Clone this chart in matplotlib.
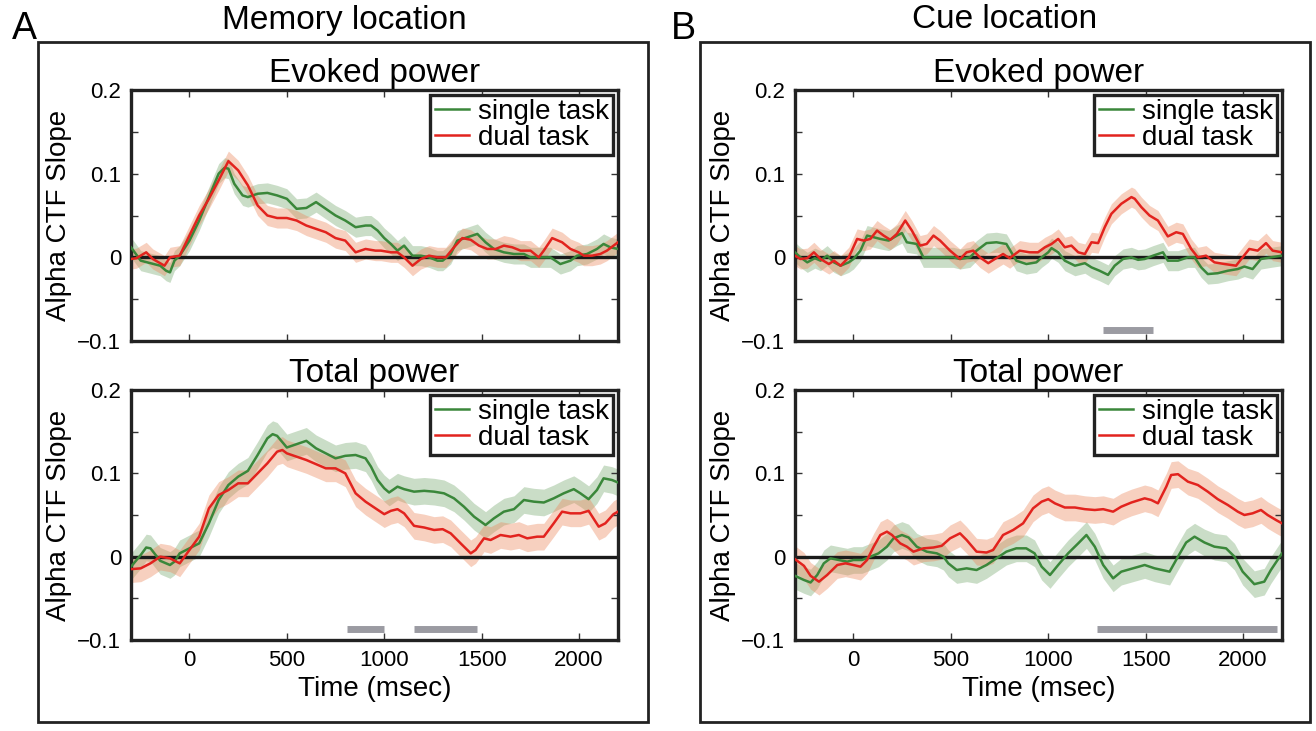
import numpy as np
import matplotlib
matplotlib.use("Agg")
import matplotlib.pyplot as plt
from matplotlib.patches import Rectangle
from matplotlib.ticker import FuncFormatter, MultipleLocator

plt.rcParams['font.family'] = ['Liberation Sans', 'DejaVu Sans']

# ---------------- data (time in msec, Alpha CTF slope) ----------------
A_evoked_single = [(-300,0.012),(-250,-0.004),(-200,-0.007),(-150,-0.010),(-120,-0.016),(-100,-0.018),(-77,-0.004),(-50,0.002),(0,0.020),(50,0.044),(100,0.072),(150,0.100),(180,0.107),(200,0.106),(230,0.088),(273,0.074),(300,0.072),(350,0.076),(400,0.077),(450,0.074),(500,0.070),(550,0.058),(600,0.059),(650,0.066),(700,0.058),(750,0.050),(800,0.044),(853,0.036),(904,0.038),(932,0.038),(966,0.032),(1000,0.023),(1034,0.016),(1068,0.008),(1102,0.014),(1145,0.002),(1188,0.002),(1230,0.000),(1273,-0.004),(1300,-0.004),(1341,0.004),(1375,0.020),(1427,0.024),(1478,0.028),(1520,0.018),(1563,0.010),(1614,0.006),(1666,0.004),(1717,0.004),(1751,0.000),(1785,0.000),(1853,0.000),(1904,-0.008),(1956,-0.004),(1990,0.002),(2041,0.004),(2092,0.010),(2126,0.016),(2160,0.012),(2200,0.010)]
A_evoked_dual = [(-300,-0.002),(-272,-0.001),(-222,0.006),(-188,-0.002),(-128,-0.010),(-100,0.000),(-50,0.002),(0,0.026),(50,0.050),(100,0.070),(150,0.092),(200,0.115),(250,0.104),(300,0.086),(350,0.062),(400,0.050),(450,0.047),(500,0.047),(550,0.044),(600,0.038),(650,0.034),(700,0.030),(750,0.023),(800,0.020),(853,0.006),(904,0.010),(955,0.008),(983,0.008),(1034,0.006),(1068,0.006),(1102,0.000),(1145,-0.010),(1188,-0.002),(1230,0.002),(1273,0.000),(1316,0.000),(1358,0.012),(1401,0.023),(1444,0.021),(1486,0.014),(1529,0.010),(1572,0.010),(1614,0.014),(1657,0.012),(1700,0.008),(1751,0.008),(1793,0.000),(1819,0.008),(1862,0.023),(1913,0.018),(1956,0.010),(1998,0.006),(2024,0.002),(2067,0.002),(2109,0.004),(2143,0.008),(2200,0.018)]
A_total_single = [(-300,-0.012),(-250,0.002),(-222,0.011),(-200,0.010),(-150,-0.005),(-100,-0.010),(-77,-0.006),(-50,0.004),(0,0.010),(50,0.016),(100,0.040),(150,0.068),(200,0.086),(250,0.096),(300,0.103),(350,0.122),(400,0.142),(427,0.147),(450,0.145),(500,0.131),(550,0.135),(600,0.139),(650,0.130),(700,0.124),(750,0.118),(800,0.121),(853,0.122),(904,0.118),(932,0.108),(966,0.092),(1000,0.082),(1025,0.077),(1068,0.084),(1102,0.081),(1153,0.078),(1205,0.079),(1256,0.078),(1307,0.076),(1358,0.070),(1409,0.060),(1461,0.048),(1520,0.038),(1563,0.046),(1614,0.054),(1666,0.057),(1717,0.068),(1768,0.066),(1819,0.065),(1870,0.070),(1921,0.076),(1973,0.081),(2007,0.076),(2049,0.069),(2092,0.080),(2126,0.094),(2169,0.092),(2200,0.089)]
A_total_dual = [(-300,-0.015),(-250,-0.014),(-200,-0.008),(-150,0.000),(-100,-0.002),(-50,-0.008),(0,0.008),(50,0.024),(100,0.058),(150,0.074),(200,0.080),(250,0.088),(300,0.088),(350,0.100),(400,0.112),(450,0.126),(477,0.128),(500,0.124),(550,0.120),(600,0.116),(650,0.111),(700,0.106),(750,0.106),(800,0.100),(853,0.076),(904,0.066),(955,0.058),(1000,0.051),(1034,0.055),(1068,0.057),(1102,0.052),(1153,0.037),(1205,0.035),(1256,0.032),(1300,0.033),(1341,0.028),(1392,0.016),(1444,0.004),(1469,0.008),(1512,0.022),(1546,0.020),(1597,0.026),(1648,0.024),(1691,0.026),(1734,0.022),(1785,0.024),(1819,0.024),(1870,0.040),(1913,0.054),(1956,0.052),(2007,0.052),(2049,0.055),(2101,0.036),(2135,0.040),(2177,0.051),(2200,0.054)]
B_evoked_single = [(-300,0.006),(-272,0.000),(-237,-0.006),(-198,-0.001),(-169,-0.004),(-135,0.002),(-100,-0.006),(-66,-0.010),(-24,-0.006),(0,-0.002),(36,0.008),(70,0.026),(104,0.024),(138,0.022),(181,0.020),(223,0.026),(249,0.029),(274,0.018),(325,0.016),(359,0.000),(411,0.000),(462,0.000),(513,0.000),(547,-0.002),(598,0.000),(632,0.008),(683,0.017),(734,0.018),(785,0.016),(836,-0.004),(888,-0.008),(939,-0.006),(966,0.000),(1000,0.006),(1017,0.011),(1051,0.006),(1085,-0.004),(1137,-0.010),(1188,-0.007),(1222,-0.012),(1263,-0.016),(1307,-0.021),(1341,-0.010),(1384,-0.002),(1427,0.000),(1461,-0.003),(1495,-0.002),(1538,0.002),(1589,0.006),(1614,-0.004),(1666,-0.004),(1717,0.000),(1751,0.000),(1785,-0.012),(1819,-0.020),(1870,-0.019),(1922,-0.016),(1973,-0.014),(2007,-0.011),(2049,-0.014),(2092,-0.002),(2143,0.000),(2200,0.002)]
B_evoked_dual = [(-300,0.002),(-272,-0.002),(-237,-0.001),(-203,0.006),(-169,-0.002),(-126,-0.008),(-100,-0.004),(-66,-0.010),(-24,0.000),(19,0.022),(53,0.020),(87,0.022),(121,0.032),(155,0.026),(189,0.021),(223,0.028),(266,0.044),(300,0.032),(342,0.014),(376,0.016),(411,0.026),(445,0.020),(496,0.008),(547,-0.002),(581,0.006),(615,0.008),(649,0.000),(692,-0.007),(726,-0.002),(768,0.004),(802,-0.001),(853,0.008),(904,0.006),(947,0.006),(983,0.012),(1017,0.016),(1051,0.022),(1085,0.012),(1119,0.014),(1154,0.006),(1188,0.004),(1222,0.018),(1256,0.017),(1290,0.036),(1324,0.052),(1375,0.064),(1427,0.072),(1444,0.070),(1478,0.060),(1520,0.050),(1563,0.044),(1614,0.025),(1657,0.030),(1691,0.028),(1734,0.010),(1768,0.000),(1810,0.002),(1853,-0.006),(1905,-0.008),(1964,-0.010),(1998,0.000),(2032,0.010),(2075,0.008),(2118,0.017),(2152,0.008),(2200,0.006)]
B_total_single = [(-300,-0.023),(-254,-0.028),(-220,-0.031),(-186,-0.022),(-152,-0.008),(-118,-0.002),(-75,-0.004),(-32,-0.006),(0,-0.004),(44,-0.004),(87,0.000),(129,0.004),(172,0.012),(206,0.022),(249,0.026),(283,0.023),(325,0.012),(376,0.006),(428,0.004),(462,0.000),(487,-0.008),(530,-0.016),(581,-0.014),(632,-0.016),(683,-0.010),(734,-0.002),(785,0.006),(836,0.010),(887,0.010),(930,0.004),(966,-0.012),(1009,-0.022),(1051,-0.010),(1102,0.004),(1154,0.016),(1196,0.026),(1239,0.012),(1282,-0.010),(1333,-0.026),(1375,-0.018),(1435,-0.014),(1495,-0.010),(1546,-0.014),(1623,-0.018),(1666,0.000),(1708,0.017),(1751,0.024),(1802,0.017),(1853,0.012),(1913,0.010),(1956,0.000),(1998,-0.018),(2058,-0.033),(2109,-0.030),(2143,-0.016),(2200,0.004)]
B_total_dual = [(-300,-0.003),(-254,-0.011),(-220,-0.023),(-177,-0.030),(-135,-0.022),(-83,-0.010),(-41,-0.008),(0,-0.010),(36,-0.012),(70,-0.004),(104,0.012),(138,0.026),(172,0.030),(198,0.026),(240,0.016),(274,0.012),(308,0.006),(359,0.010),(411,0.011),(453,0.013),(496,0.022),(547,0.028),(581,0.020),(632,0.006),(683,0.005),(717,0.008),(768,0.026),(820,0.032),(871,0.040),(922,0.058),(966,0.066),(1000,0.069),(1034,0.064),(1085,0.059),(1137,0.059),(1188,0.057),(1239,0.056),(1282,0.057),(1333,0.054),(1375,0.060),(1427,0.065),(1495,0.070),(1529,0.068),(1563,0.064),(1606,0.084),(1631,0.098),(1666,0.099),(1717,0.090),(1768,0.086),(1819,0.078),(1870,0.069),(1922,0.062),(1973,0.054),(2007,0.050),(2049,0.052),(2092,0.056),(2126,0.050),(2169,0.044),(2200,0.040)]

# half-width of shaded error band
sem_evoked = 0.012
sem_total = 0.016

# significant time windows (msec)
sig_A_evoked = []
sig_A_total = [(810, 1000), (1155, 1478)]
sig_B_evoked = [(1281, 1538)]
sig_B_total = [(1248, 2172)]
sig_level = -0.087

series_labels = ['single task', 'dual task']
panel_titles = ['Memory location', 'Cue location']
sub_titles = ['Evoked power', 'Total power']
x_ticks = [0, 500, 1000, 1500, 2000]
y_ticks = [-0.1, 0, 0.1, 0.2]

# ---------------- style ----------------
GREEN = '#3a873a'
RED = '#e2231e'
GREEN_BAND = '#5f9a55'
RED_BAND = '#ec8a60'
SIG = '#9b9ba2'

W, H = 1316, 731
fig = plt.figure(figsize=(W / 100, H / 100), dpi=100)

def fx(px):
    return px / W

def fy(py):
    return 1 - py / H

ax_left = [131, 795]
ax_w = 487
ax_rows = [(90, 341), (390, 640)]

def fmt(v, p):
    if abs(v) < 1e-9:
        return '0'
    return ('%.1f' % v).replace('-', '\u2212')

panels = [
    [(A_evoked_single, A_evoked_dual, sem_evoked, sig_A_evoked),
     (A_total_single, A_total_dual, sem_total, sig_A_total)],
    [(B_evoked_single, B_evoked_dual, sem_evoked, sig_B_evoked),
     (B_total_single, B_total_dual, sem_total, sig_B_total)],
]

for col in range(2):
    for row in range(2):
        top, bot = ax_rows[row]
        ax = fig.add_axes([fx(ax_left[col]), fy(bot), ax_w / W, (bot - top) / H])
        single, dual, sem, sig = panels[col][row]
        for data, cb, a in [(single, GREEN_BAND, 0.33), (dual, RED_BAND, 0.4)]:
            t = np.array([p[0] for p in data], dtype=float)
            v = np.array([p[1] for p in data], dtype=float)
            ax.fill_between(t, v - sem, v + sem, color=cb, alpha=a, lw=0, zorder=1)
        for data, c, lab in [(single, GREEN, series_labels[0]), (dual, RED, series_labels[1])]:
            t = np.array([p[0] for p in data], dtype=float)
            v = np.array([p[1] for p in data], dtype=float)
            ax.plot(t, v, color=c, lw=1.8, label=lab, zorder=3)
        ax.axhline(0, color='#1a1a1a', lw=2.4, zorder=2)
        for s0, s1 in sig:
            ax.plot([s0, s1], [sig_level, sig_level], color=SIG, lw=5, solid_capstyle='butt', zorder=2)
        ax.set_xlim(-300, 2200)
        ax.set_ylim(-0.1, 0.2)
        ax.set_xticks(x_ticks)
        ax.set_yticks(y_ticks)
        ax.yaxis.set_minor_locator(MultipleLocator(0.05))
        ax.yaxis.set_major_formatter(FuncFormatter(fmt))
        ax.tick_params(axis='both', which='both', direction='in', top=True, right=True,
                       labelsize=16, width=1, color='#333333')
        ax.tick_params(which='major', length=5, pad=7)
        ax.tick_params(which='minor', length=5)
        if row == 0:
            ax.tick_params(axis='x', labelbottom=False)
        else:
            ax.set_xlabel('Time (msec)', fontsize=20, labelpad=4)
        for sp in ax.spines.values():
            sp.set_linewidth(2.4)
            sp.set_color('#222222')
        ax.set_ylabel('Alpha CTF Slope', fontsize=20, labelpad=4)
        ax.set_title(sub_titles[row], fontsize=24, pad=6)
        leg = ax.legend(loc='upper right', fontsize=20, frameon=True, fancybox=False,
                        borderaxespad=0.18, handlelength=1.25, handletextpad=0.3,
                        labelspacing=0.0, borderpad=0.15)
        leg.get_frame().set_edgecolor('#222222')
        leg.get_frame().set_linewidth(2.4)
        leg.get_frame().set_alpha(1)

# outer boxes
for x0 in [38, 700]:
    fig.add_artist(Rectangle((fx(x0), fy(722)), 610 / W, 680 / H, transform=fig.transFigure,
                             fill=False, lw=2.0, ec='#222222'))

fig.text(fx(344), fy(20), panel_titles[0], fontsize=24, ha='center', va='center')
fig.text(fx(1005), fy(20), panel_titles[1], fontsize=24, ha='center', va='center')
fig.text(fx(24), fy(29), 'A', fontsize=27, ha='center', va='center')
fig.text(fx(683), fy(29), 'B', fontsize=27, ha='center', va='center')

fig.savefig('out.png', dpi=100, facecolor='white')
